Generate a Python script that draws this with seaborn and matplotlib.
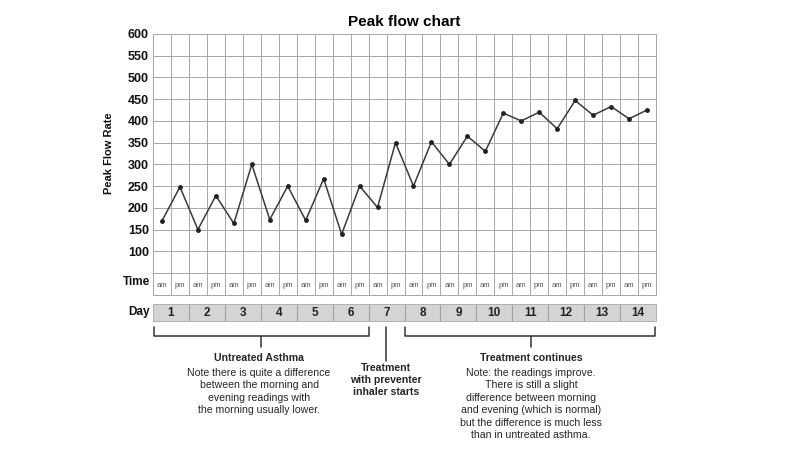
import matplotlib
matplotlib.use("Agg")
import matplotlib.pyplot as plt
import seaborn as sns
import numpy as np
import pandas as pd

# readings, two per day (am, pm)
days = list(range(1, 15))
times = ["am", "pm"] * 14
peak_flow = [170, 248, 150, 228, 164, 300, 173, 250, 171, 267, 139, 250, 201, 350,
             250, 352, 300, 365, 330, 418, 400, 420, 382, 447, 413, 433, 405, 425]
y_ticks = [100, 150, 200, 250, 300, 350, 400, 450, 500, 550, 600]

df = pd.DataFrame({"slot": np.arange(len(peak_flow)), "time": times, "flow": peak_flow})

sns.set_style("white")
plt.rcParams["font.family"] = ["Liberation Sans", "DejaVu Sans"]

W, H = 800, 449
fig = plt.figure(figsize=(8, 4.49), dpi=100)


def box(x0, y0, x1, y1):
    return [x0 / W, 1 - y1 / H, (x1 - x0) / W, (y1 - y0) / H]


grid_col = "#a8a8a8"

# main chart
ax = fig.add_axes(box(153, 34, 656, 273))
sns.lineplot(data=df, x="slot", y="flow", ax=ax, color="#3a3a3a", lw=1.1,
             marker="o", markersize=3.5, markeredgewidth=0, markerfacecolor="#222222")
ax.set_xlim(-0.5, len(peak_flow) - 0.5)
ax.set_ylim(50, 600)
ax.set_xticks(np.arange(-0.5, len(peak_flow), 1))
ax.set_xticklabels([])
ax.set_yticks(y_ticks)
ax.set_yticklabels([str(v) for v in y_ticks], fontsize=9, fontweight="bold", color="#111111")
ax.tick_params(axis="both", length=0, pad=3)
ax.grid(True, color=grid_col, lw=0.7)
for s in ax.spines.values():
    s.set_color(grid_col)
    s.set_linewidth(0.7)
ax.set_xlabel("")
ax.set_ylabel("Peak Flow Rate", fontsize=8, fontweight="bold", labelpad=10, color="#111111")
ax.set_title("Peak flow chart", fontsize=11, fontweight="bold", pad=6, color="black")

# time row
axt = fig.add_axes(box(153, 273, 656, 295))
axt.set_xlim(-0.5, len(peak_flow) - 0.5)
axt.set_ylim(0, 1)
for i, t in enumerate(times):
    axt.text(i, 0.45, t, ha="center", va="center", fontsize=5.5, color="#555555")
for k in range(1, len(times)):
    axt.axvline(k - 0.5, color=grid_col, lw=0.7)
axt.set_xticks([])
axt.set_yticks([])
for s in axt.spines.values():
    s.set_color(grid_col)
    s.set_linewidth(0.7)
axt.set_ylabel("Time", rotation=0, fontsize=8.5, fontweight="bold", ha="right", va="center", labelpad=3, color="#111111")
axt.yaxis.set_label_coords(-0.006, 0.6)

# day row
axd = fig.add_axes(box(153, 304, 656, 321))
axd.set_facecolor("#d4d4d4")
axd.set_xlim(-0.5, len(peak_flow) - 0.5)
axd.set_ylim(0, 1)
for i, d in enumerate(days):
    axd.text(2 * i + 0.5, 0.5, str(d), ha="center", va="center", fontsize=8.5, fontweight="bold", color="#222222")
    if i > 0:
        axd.axvline(2 * i - 0.5, color="#a0a0a0", lw=0.8)
axd.set_xticks([])
axd.set_yticks([])
for s in axd.spines.values():
    s.set_color("#b0b0b0")
    s.set_linewidth(0.7)
axd.set_ylabel("Day", rotation=0, fontsize=8.5, fontweight="bold", ha="right", va="center", labelpad=3, color="#111111")
axd.yaxis.set_label_coords(-0.006, 0.5)

# annotation layer in pixel coordinates
ov = fig.add_axes([0, 0, 1, 1], zorder=-1)
ov.set_xlim(0, W)
ov.set_ylim(H, 0)
ov.axis("off")
lc = dict(color="#333333", lw=1.1)
# untreated bracket
ov.plot([154, 154, 369, 369], [327, 336, 336, 327], **lc)
ov.plot([261, 261], [336, 347], **lc)
# treatment start
ov.plot([386, 386], [327, 361], **lc)
# treatment continues bracket
ov.plot([405, 405, 655, 655], [327, 336, 336, 327], **lc)
ov.plot([531, 531], [336, 347], **lc)

fs = 7.6
ov.text(259, 358, "Untreated Asthma", ha="center", va="center", fontsize=fs, fontweight="bold")
ov.text(259, 368, "Note there is quite a difference\nbetween the morning and\nevening readings with\nthe morning usually lower.",
        ha="center", va="top", fontsize=fs, linespacing=1.3)
ov.text(386, 363, "Treatment\nwith preventer\ninhaler starts", ha="center", va="top",
        fontsize=fs, fontweight="bold", linespacing=1.25)
ov.text(531, 358, "Treatment continues", ha="center", va="center", fontsize=fs, fontweight="bold")
ov.text(531, 368, "Note: the readings improve.\nThere is still a slight\ndifference between morning\nand evening (which is normal)\nbut the difference is much less\nthan in untreated asthma.",
        ha="center", va="top", fontsize=fs, linespacing=1.3)

fig.savefig("out.png", dpi=100)
